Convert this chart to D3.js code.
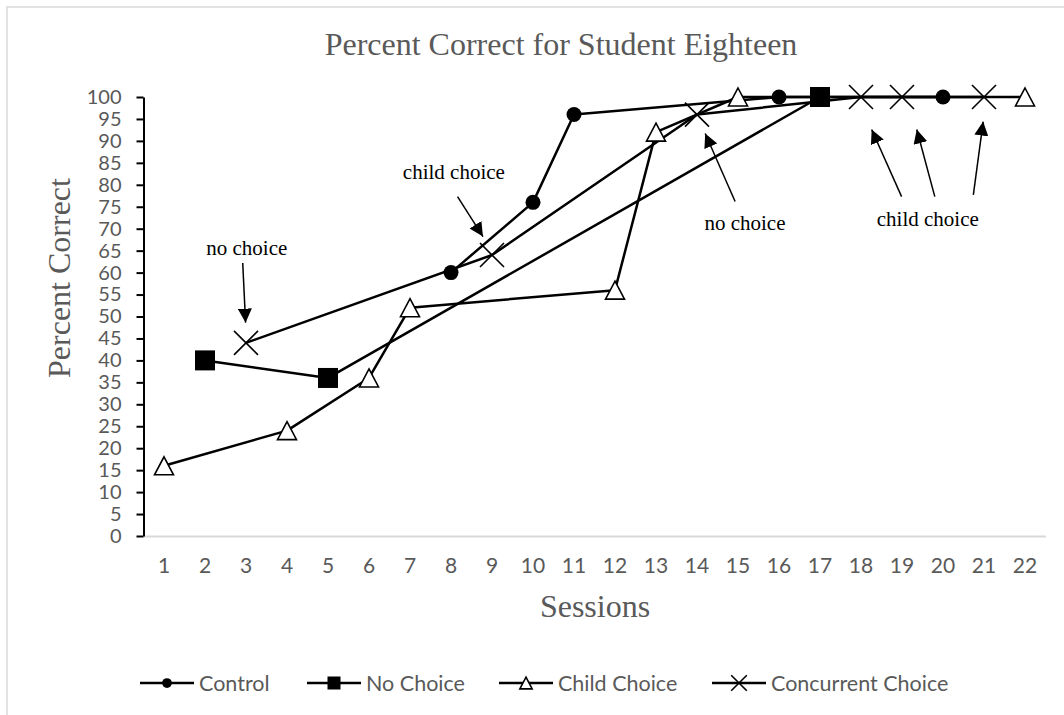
<!DOCTYPE html>
<html>
<head>
<meta http-equiv="content-type" content="text/html; charset=UTF8">
<script src="https://cdn.jsdelivr.net/npm/d3@7/dist/d3.min.js"></script>
<style>
body { margin: 0; background: #fff; }
.chart { width: 1064px; height: 715px; display: block; }
</style>
</head>
<body>
<svg class="chart"></svg>
<script>
// categories on the x axis
var sessions = d3.range(1, 23);
var yTicks = d3.range(0, 101, 5);

// each series: sessions where it ran and the percent correct
var controlSessions = [8, 10, 11, 16, 20];
var controlValues = [60, 76, 96, 100, 100];

var noChoiceSessions = [2, 5, 17];
var noChoiceValues = [40, 36, 100];

var childChoiceSessions = [1, 4, 6, 7, 12, 13, 15, 22];
var childChoiceValues = [16, 24, 36, 52, 56, 92, 100, 100];

var concurrentSessions = [3, 9, 14, 18, 19, 21];
var concurrentValues = [44, 64, 96, 100, 100, 100];

var seriesNames = ["Control", "No Choice", "Child Choice", "Concurrent Choice"];
var seriesShapes = ["circle", "square", "triangle", "cross"];

// annotation labels and arrows, in session / percent units
var noteLabels = ["no choice", "child choice", "no choice", "child choice"];
var noteLabelPos = [[3.02, 64.0], [8.07, 81.3], [15.17, 69.7], [19.63, 70.7]];
var noteArrows = [
	[[2.92, 62.2], [2.99, 48.6]],
	[[8.16, 77.3], [8.78, 68.2]],
	[[14.93, 76.2], [14.2, 91.7]],
	[[18.99, 77.3], [18.26, 92.6]],
	[[19.80, 77.3], [19.36, 92.6]],
	[[20.74, 77.7], [20.98, 94.4]]
];

function zip(s, v) { return s.map(function(d, i) { return {session: d, value: v[i]}; }); }

var series = [
	zip(controlSessions, controlValues),
	zip(noChoiceSessions, noChoiceValues),
	zip(childChoiceSessions, childChoiceValues),
	zip(concurrentSessions, concurrentValues)
];

var svg = d3.select(".chart");
var grey = "#595959";

var plotLeft = 143.5, plotRight = 1045.5, plotTop = 97, plotBottom = 536;

var x = d3.scaleBand().domain(sessions).range([plotLeft, plotRight]).padding(0);
var cx = function(s) { return x(s) + x.bandwidth() / 2; };
var xa = d3.scaleLinear().domain([1, 22]).range([cx(1), cx(22)]);
var y = d3.scaleLinear().domain([0, 100]).range([plotBottom, plotTop]);

// outer chart border
svg.append("rect")
	.attr("x", 7).attr("y", 7)
	.attr("width", 1200).attr("height", 900)
	.attr("fill", "none")
	.attr("stroke", "#d9d9d9")
	.attr("stroke-width", 1.5);

svg.append("text")
	.attr("x", 561).attr("y", 55)
	.attr("text-anchor", "middle")
	.attr("font-family", "Liberation Serif, Times New Roman, serif")
	.attr("font-size", 32)
	.attr("fill", grey)
	.text("Percent Correct for Student Eighteen");

// x axis (grey line, no ticks)
var xAxis = svg.append("g")
	.attr("transform", "translate(0," + plotBottom + ")")
	.call(d3.axisBottom(x).tickSize(0).tickPadding(22));
xAxis.select(".domain").attr("stroke", "#d9d9d9").attr("stroke-width", 2);
xAxis.selectAll("text")
	.attr("font-family", "Lato, sans-serif")
	.attr("font-size", 21)
	.attr("fill", grey);

// y axis
var yAxis = svg.append("g")
	.attr("transform", "translate(" + plotLeft + ",0)")
	.call(d3.axisLeft(y).tickValues(yTicks).tickSize(7).tickSizeOuter(0).tickPadding(15));
yAxis.select(".domain").attr("stroke", "#000").attr("stroke-width", 2);
yAxis.selectAll(".tick line").attr("stroke", "#000").attr("stroke-width", 2);
yAxis.selectAll("text")
	.attr("font-family", "Lato, sans-serif")
	.attr("font-size", 20)
	.attr("fill", grey);

svg.append("text")
	.attr("transform", "translate(70,278) rotate(-90)")
	.attr("text-anchor", "middle")
	.attr("font-family", "Liberation Serif, Times New Roman, serif")
	.attr("font-size", 32)
	.attr("fill", grey)
	.text("Percent Correct");

svg.append("text")
	.attr("x", 595).attr("y", 617)
	.attr("text-anchor", "middle")
	.attr("font-family", "Liberation Serif, Times New Roman, serif")
	.attr("font-size", 32)
	.attr("fill", grey)
	.text("Sessions");

// draws one marker shape centred on px,py
function drawMarker(g, shape, px, py, s) {
	if (shape == "circle") {
		g.append("circle").attr("cx", px).attr("cy", py).attr("r", 7.5 * s).attr("fill", "#000");
	} else if (shape == "square") {
		g.append("rect").attr("x", px - 10 * s).attr("y", py - 10 * s)
			.attr("width", 20 * s).attr("height", 20 * s).attr("fill", "#000");
	} else if (shape == "triangle") {
		var w = 9.5 * s, h = 9 * s;
		g.append("path")
			.attr("d", "M" + px + "," + (py - h) + "L" + (px + w) + "," + (py + h) + "L" + (px - w) + "," + (py + h) + "Z")
			.attr("fill", "#fff").attr("stroke", "#000").attr("stroke-width", 1.6);
	} else {
		var r = 12 * s;
		g.append("path")
			.attr("d", "M" + (px - r) + "," + (py - r) + "L" + (px + r) + "," + (py + r) + "M" + (px + r) + "," + (py - r) + "L" + (px - r) + "," + (py + r))
			.attr("fill", "none").attr("stroke", "#000").attr("stroke-width", 1.6);
	}
}

var line = d3.line()
	.x(function(d) { return cx(d.session); })
	.y(function(d) { return y(d.value); });

var plot = svg.append("g");
series.forEach(function(data) {
	plot.append("path")
		.datum(data)
		.attr("d", line)
		.attr("fill", "none")
		.attr("stroke", "#000")
		.attr("stroke-width", 2.5)
		.attr("stroke-linejoin", "round");
});
series.forEach(function(data, i) {
	data.forEach(function(d) {
		drawMarker(plot, seriesShapes[i], cx(d.session), y(d.value), 1);
	});
});

// annotations
svg.append("defs").append("marker")
	.attr("id", "head")
	.attr("markerUnits", "userSpaceOnUse")
	.attr("viewBox", "0 0 14 14")
	.attr("refX", 14).attr("refY", 7)
	.attr("markerWidth", 14).attr("markerHeight", 14)
	.attr("orient", "auto")
	.append("path")
	.attr("d", "M0,0L14,7L0,14Z")
	.attr("fill", "#000");

svg.selectAll(".note")
	.data(noteLabels)
	.enter()
	.append("text")
	.attr("class", "note")
	.attr("x", function(d, i) { return xa(noteLabelPos[i][0]); })
	.attr("y", function(d, i) { return y(noteLabelPos[i][1]); })
	.attr("text-anchor", "middle")
	.attr("font-family", "Liberation Serif, Times New Roman, serif")
	.attr("font-size", 21)
	.attr("fill", "#000")
	.text(function(d) { return d; });

svg.selectAll(".arrow")
	.data(noteArrows)
	.enter()
	.append("line")
	.attr("class", "arrow")
	.attr("x1", function(d) { return xa(d[0][0]); })
	.attr("y1", function(d) { return y(d[0][1]); })
	.attr("x2", function(d) { return xa(d[1][0]); })
	.attr("y2", function(d) { return y(d[1][1]); })
	.attr("stroke", "#000")
	.attr("stroke-width", 1.5)
	.attr("marker-end", "url(#head)");

// legend
var legendX = [140, 307, 499, 712];
var legendY = 683;
var legend = svg.append("g");
seriesNames.forEach(function(name, i) {
	var lx = legendX[i];
	legend.append("line")
		.attr("x1", lx).attr("x2", lx + 54)
		.attr("y1", legendY).attr("y2", legendY)
		.attr("stroke", "#000").attr("stroke-width", 2.5);
	drawMarker(legend, seriesShapes[i], lx + 27, legendY, 0.65);
	legend.append("text")
		.attr("x", lx + 59).attr("y", legendY)
		.attr("dy", "0.35em")
		.attr("font-family", "Lato, sans-serif")
		.attr("font-size", 21.5)
		.attr("fill", grey)
		.text(name);
});
</script>
</body>
</html>
